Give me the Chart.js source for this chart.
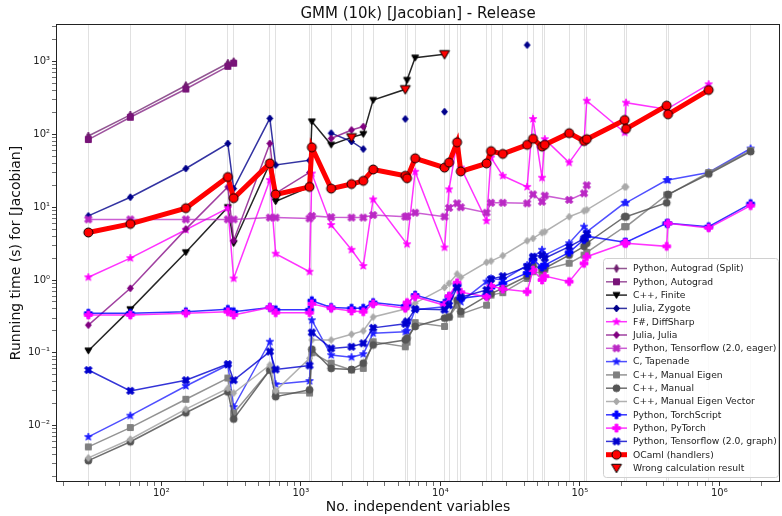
<!DOCTYPE html>
<html>
<head>
<meta charset="utf-8">
<script src="https://cdn.jsdelivr.net/npm/chart.js@4.4.1/dist/chart.umd.min.js"></script>
<style>
html, body { margin: 0; padding: 0; background: #fff; overflow: hidden; }
#wrap { width: 782px; height: 516px; }
</style>
</head>
<body>
<div id="wrap"><canvas id="chart" width="782" height="516"></canvas></div>
<script>
// number of independent variables (x positions of all measurements)
const nVars = [30, 60, 150, 300, 330, 600, 660, 1155, 1200, 1650, 2310, 2805, 3300, 5610, 5775, 6600,
    10725, 11550, 13200, 14025, 21450, 23100, 28050, 41925, 46200, 53625, 56100, 83850,
    107250, 112200, 209625, 214500, 419250, 429000, 838500, 1677000];

// running times (s), aligned with nVars, null = no measurement
const autogradSplit = [95, 185, 470, 950, 1000];
const autograd = [85, 172, 420, 860, 950];
const cppFinite = [0.107, 0.395, 2.4, 10, 3.2, 40, 12, 19, 150, 72, 91, 101, 296, 416, 558, 1130, 1260];
const juliaZygote = [7.6, 13.7, 34, 75, 18, 166, 38, 44, null, 104, 80, 63, null, 163, null, null, 205,
    null, null, null, null, null, null, 1690];
const fsDiffSharp = [1.09, 2.0, 4.9, 9.7, 1.05, 23.6, 2.3, 1.3, 29, 5.7, 2.6, 1.56, 12.8, null, 3.1, 30.7,
    2.8, 17.6, 79, 35, 6.5, 48, 27, 19, 163, 25.4, 86, 41, 79, 290, 106, 273, 221, null, 488];
const juliaJulia = [0.24, 0.77, 5.0, 19, 3.5, 75, 15.5, 30, null, 88, 115, 128];
const tfEager = [6.8, 6.8, 6.8, 6.8, 6.8, 7.2, 7.2, 7.0, 7.6, 7.3, 7.2, 7.2, 7.8, 7.4, 7.5, 8.4,
    7.4, 9.8, 11.3, 10, 8.4, 11.5, 11.5, 11.3, 15, 11.9, 14.4, 12.6, 15.5, 20];
const cTapenade = [0.0070, 0.0137, 0.035, 0.068, 0.018, 0.142, 0.037, 0.041, 0.28, 0.093, 0.087, 0.096,
    0.185, 0.195, 0.2, 0.39, 0.43, 0.53, 0.85, 0.50, 0.95, 1.05, 1.0, 1.6, 2.05, 2.6, 2.2, 3.2, 5.4, 4.6,
    11.5, 11.5, 23.6, 23.6, 30, 64];
const cppManualEigen = [0.0051, 0.0094, 0.023, 0.045, 0.0148, 0.058, 0.028, 0.028, 0.10, 0.072, 0.058, 0.061,
    0.142, 0.121, 0.14, 0.26, 0.23, 0.31, 0.45, 0.34, 0.45, 0.62, 0.67, 1.05, 1.3, 1.24, 1.4, 1.7, 2.2, 2.4,
    5.4, 5.4, 14.7, 14.7, 30, 60];
const cppManual = [0.0033, 0.0060, 0.015, 0.029, 0.0123, 0.058, 0.025, 0.031, 0.112, 0.061, 0.059, 0.072,
    0.128, 0.15, 0.16, 0.23, 0.30, 0.31, 0.53, 0.37, 0.6, 0.65, 0.77, 1.13, 1.6, 1.4, 1.45, 2.2, 2.9, 3.2,
    7.4, 7.4, 11.5, 15, 28.6, 58];
const cppEigenVector = [0.0036, 0.0065, 0.0168, 0.0325, 0.028, 0.068, 0.03, 0.084, 0.15, 0.15, 0.18, 0.2,
    0.31, 0.40, 0.42, 0.48, 0.79, 0.9, 1.21, 1.09, 1.75, 1.82, 2.16, 3.46, 3.73, 4.46, 4.6, 7.4, 8.9, 9.2,
    19, 19];
const torchScript = [0.35, 0.35, 0.367, 0.395, 0.367, 0.42, 0.39, 0.39, 0.52, 0.42, 0.41, 0.41, 0.49, 0.44,
    0.46, 0.62, 0.48, 0.59, 0.85, 0.56, 0.62, 0.79, 0.9, 1.25, 1.9, 1.5, 1.6, 2.4, 3.6, 4.0, 3.3, 3.3,
    6.0, 6.0, 5.4, 11.2];
const pyTorch = [0.33, 0.33, 0.35, 0.367, 0.33, 0.42, 0.355, 0.355, 0.47, 0.41, 0.375, 0.367, 0.47, 0.41,
    0.49, 0.59, 0.45, 0.6, 0.92, 0.68, 0.59, 0.83, 0.75, 0.69, 1.37, 1.0, 1.13, 0.95, 1.69, 2.09, 3.2, 3.2,
    2.9, 6.0, 5.2, 10.5];
const tfGraph = [0.058, 0.030, 0.042, 0.070, 0.042, 0.104, 0.059, 0.067, 0.19, 0.115, 0.121, 0.135, 0.22,
    0.25, 0.27, 0.40, 0.39, 0.45, 0.79, 0.58, 0.73, 1.03, 1.13, 1.52, 2.09, 2.2, 1.99, 2.87, 3.7, 4.3];
const ocamlHandlers = [4.5, 5.9, 9.7, 26, 13.3, 40, 15, 19, 66.5, 18, 20.8, 23, 33, 27, 25, 47, 35, 41, 78,
    31, 40, 59, 54, 72, 87, 68, 72, 104, 81, 86, 158, 119, 248, 189, 407];
// indices of C++ Finite results flagged as wrong
const wrongIdx = [10, 13, 16];

const yDecades = [-3, -2, -1, 0, 1, 2, 3];
const xDecades = [1, 2, 3, 4, 5, 6];

// draw a matplotlib-like marker into a small canvas
function makeMarker(shape, fill, edge, size, lw) {
    const c = document.createElement('canvas');
    const s = Math.ceil(size + 4);
    c.width = s; c.height = s;
    const g = c.getContext('2d');
    const m = s / 2, r = size / 2;
    g.translate(m, m);
    g.beginPath();
    if (shape === 'circle') {
        g.arc(0, 0, r, 0, Math.PI * 2);
    } else if (shape === 'square') {
        g.rect(-r * 0.85, -r * 0.85, r * 1.7, r * 1.7);
    } else if (shape === 'diamond') {
        g.moveTo(0, -r); g.lineTo(r * 0.85, 0); g.lineTo(0, r); g.lineTo(-r * 0.85, 0);
    } else if (shape === 'thin') {
        g.moveTo(0, -r); g.lineTo(r * 0.55, 0); g.lineTo(0, r); g.lineTo(-r * 0.55, 0);
    } else if (shape === 'tri') {
        g.moveTo(-r, -r * 0.75); g.lineTo(r, -r * 0.75); g.lineTo(0, r * 0.95);
    } else if (shape === 'star') {
        for (let i = 0; i < 10; i++) {
            const a = -Math.PI / 2 + i * Math.PI / 5;
            const rr = i % 2 === 0 ? r : r * 0.42;
            g.lineTo(Math.cos(a) * rr, Math.sin(a) * rr);
        }
    } else if (shape === 'plus' || shape === 'x') {
        if (shape === 'x') g.rotate(Math.PI / 4);
        const w = r * 0.36;
        const pts = [[-w, -r], [w, -r], [w, -w], [r, -w], [r, w], [w, w], [w, r], [-w, r], [-w, w], [-r, w], [-r, -w], [-w, -w]];
        pts.forEach((p, i) => i ? g.lineTo(p[0], p[1]) : g.moveTo(p[0], p[1]));
    }
    g.closePath();
    g.fillStyle = fill;
    g.fill();
    if (lw > 0) {
        g.lineWidth = lw;
        g.strokeStyle = edge;
        g.stroke();
    }
    return c;
}

// series definitions: label, values, line colour, marker
const series = [
    { label: 'Python, Autograd (Split)', values: autogradSplit, line: 'rgba(110,30,110,0.75)', marker: makeMarker('thin', 'rgb(110,30,110)', 'rgb(110,30,110)', 8, 1) },
    { label: 'Python, Autograd', values: autograd, line: 'rgba(125,25,125,0.75)', marker: makeMarker('square', 'rgb(120,20,120)', 'rgb(120,20,120)', 7, 1) },
    { label: 'C++, Finite', values: cppFinite, line: 'rgba(0,0,0,0.85)', marker: makeMarker('tri', '#000', '#000', 7, 1) },
    { label: 'Julia, Zygote', values: juliaZygote, line: 'rgba(0,0,139,0.8)', marker: makeMarker('diamond', 'rgb(0,0,139)', 'rgb(0,0,139)', 7, 1), gaps: false },
    { label: 'F#, DiffSharp', values: fsDiffSharp, line: 'rgba(255,0,255,0.8)', marker: makeMarker('star', '#ff00ff', '#ff00ff', 8, 0.8) },
    { label: 'Julia, Julia', values: juliaJulia, line: 'rgba(128,0,128,0.75)', marker: makeMarker('diamond', 'rgb(128,0,128)', 'rgb(128,0,128)', 7, 1), gaps: false },
    { label: 'Python, Tensorflow (2.0, eager)', values: tfEager, line: 'rgba(186,40,196,0.75)', marker: makeMarker('x', 'rgb(186,40,196)', 'rgb(186,40,196)', 8, 0.8) },
    { label: 'C, Tapenade', values: cTapenade, line: 'rgba(20,20,255,0.75)', marker: makeMarker('star', 'rgb(30,30,255)', 'rgb(30,30,255)', 8, 0.8) },
    { label: 'C++, Manual Eigen', values: cppManualEigen, line: 'rgba(128,128,128,0.85)', marker: makeMarker('square', '#808080', '#808080', 7, 1) },
    { label: 'C++, Manual', values: cppManual, line: 'rgba(85,85,85,0.85)', marker: makeMarker('circle', '#555', '#555', 7, 1) },
    { label: 'C++, Manual Eigen Vector', values: cppEigenVector, line: 'rgba(169,169,169,0.9)', marker: makeMarker('diamond', '#a9a9a9', '#a9a9a9', 7, 1) },
    { label: 'Python, TorchScript', values: torchScript, line: 'rgba(0,0,255,0.8)', marker: makeMarker('plus', '#0000ff', '#0000ff', 8, 0.8) },
    { label: 'Python, PyTorch', values: pyTorch, line: 'rgba(255,0,255,0.8)', marker: makeMarker('plus', '#ff00ff', '#ff00ff', 8, 0.8) },
    { label: 'Python, Tensorflow (2.0, graph)', values: tfGraph, line: 'rgba(0,0,205,0.8)', marker: makeMarker('x', 'rgb(0,0,205)', 'rgb(0,0,205)', 8, 0.8) },
    { label: 'OCaml (handlers)', values: ocamlHandlers, line: 'rgba(255,0,0,1)', marker: makeMarker('circle', '#ff0000', '#000', 9, 1), width: 5 }
];
const wrongMarker = makeMarker('tri', '#ff0000', '#000', 10, 1);

function toPoints(values) {
    return values.map((y, i) => ({ x: nVars[i], y: y }));
}

const datasets = series.map((s, i) => ({
    label: s.label,
    data: toPoints(s.values),
    showLine: true,
    borderColor: s.line,
    backgroundColor: s.line,
    borderWidth: s.width || 1.5,
    pointStyle: s.marker,
    pointRadius: 3,
    spanGaps: s.gaps === false ? false : true,
    order: 40 - i
}));
datasets.push({
    label: 'Wrong calculation result',
    data: wrongIdx.map(i => ({ x: nVars[i], y: cppFinite[i] })),
    showLine: false,
    pointStyle: wrongMarker,
    pointRadius: 4,
    order: 1
});

// superscript tick labels like 10⁻²
const sup = { '-': '⁻', '0': '⁰', '1': '¹', '2': '²', '3': '³', '4': '⁴', '5': '⁵', '6': '⁶', '7': '⁷', '8': '⁸', '9': '⁹' };
function powLabel(e) {
    return '10' + String(e).split('').map(ch => sup[ch]).join('');
}

// all candidate ticks; the ones inside the axis range are kept when ticks are built
function decadeTicks(decades) {
    const out = [];
    decades.forEach(e => {
        for (let k = 1; k < 10; k++) {
            out.push({ value: k * Math.pow(10, e), kind: k === 1 ? 'major' : 'minor', e: e });
        }
    });
    return out;
}
const yAll = decadeTicks(yDecades);
const xAll = decadeTicks(xDecades).concat(nVars.map(v => ({ value: v, kind: 'grid' })));
xAll.sort((a, b) => a.value - b.value);
let xShown = [], yShown = [];

// where the reference puts 10^2 / 10^0 and how wide one decade is (pixels)
const xRef = { pos: 161.3, exp: 2, decade: 139.5 };
const yRef = { pos: 280, exp: 0, decade: 72.8 };

const noPadding = () => ({ left: 0, top: 0, right: 0, bottom: 0 });

// frame and legend drawn like matplotlib
const framePlugin = {
    id: 'frameLegend',
    afterDraw(chart) {
        const ctx = chart.ctx;
        const a = chart.chartArea;
        ctx.save();
        ctx.strokeStyle = '#222';
        ctx.lineWidth = 1;
        ctx.strokeRect(a.left + 0.5, a.top + 0.5, a.right - a.left - 1, a.bottom - a.top - 1);

        // legend box
        const bx = 603, by = 258, bw = 175, bh = 219;
        ctx.fillStyle = 'rgba(255,255,255,0.85)';
        ctx.strokeStyle = '#d0d0d0';
        ctx.lineWidth = 1;
        ctx.beginPath();
        ctx.roundRect(bx + 0.5, by + 0.5, bw, bh, 3);
        ctx.fill();
        ctx.stroke();

        ctx.font = '9.2px "DejaVu Sans"';
        ctx.textBaseline = 'middle';
        const items = series.concat([{ label: 'Wrong calculation result', marker: wrongMarker, noLine: true }]);
        items.forEach((s, i) => {
            const y = by + 10.5 + i * 13.3;
            if (!s.noLine) {
                ctx.strokeStyle = s.line;
                ctx.lineWidth = s.width || 1.5;
                ctx.beginPath();
                ctx.moveTo(606, y);
                ctx.lineTo(627, y);
                ctx.stroke();
            }
            ctx.drawImage(s.marker, 616.5 - s.marker.width / 2, y - s.marker.height / 2);
            ctx.fillStyle = '#222';
            ctx.fillText(s.label, 633, y + 0.5);
        });
        ctx.restore();
    }
};

const chart = new Chart(document.getElementById('chart'), {
    type: 'scatter',
    data: { datasets: datasets },
    options: {
        responsive: false,
        devicePixelRatio: 1,
        animation: false,
        layout: { autoPadding: false, padding: { top: 0, right: 2, left: 0, bottom: 0 } },
        plugins: {
            legend: { display: false },
            tooltip: { enabled: false },
            title: {
                display: true,
                fullSize: false,
                text: 'GMM (10k) [Jacobian] - Release',
                color: '#111',
                font: { family: 'DejaVu Sans', size: 15, weight: 'normal' },
                padding: { top: 5, bottom: 1 }
            }
        },
        scales: {
            x: {
                type: 'logarithmic',
                min: 17.6,
                max: 2.72e6,
                afterBuildTicks: scale => {
                    xShown = xAll.filter(t => t.value >= scale.min && t.value <= scale.max);
                    scale.ticks = xShown.map(t => ({ value: t.value }));
                },
                afterFit: scale => { scale.height = 34; scale.paddingLeft = 0; scale.paddingRight = 0; scale.getPadding = noPadding; },
                ticks: {
                    autoSkip: false,
                    maxRotation: 0,
                    padding: 1,
                    color: '#222',
                    font: { family: 'DejaVu Sans', size: 10 },
                    callback: (v, i) => xShown[i] && xShown[i].kind === 'major' ? powLabel(xShown[i].e) : ''
                },
                grid: {
                    color: ctx => xShown[ctx.index] && xShown[ctx.index].kind === 'grid' ? 'rgba(200,200,200,0.55)' : 'rgba(0,0,0,0)',
                    tickColor: ctx => xShown[ctx.index] && xShown[ctx.index].kind !== 'grid' ? '#333' : 'rgba(0,0,0,0)',
                    tickWidth: ctx => xShown[ctx.index] && xShown[ctx.index].kind === 'major' ? 1 : 0.7,
                    tickLength: 4,
                    lineWidth: 1
                },
                border: { display: false },
                title: {
                    display: true,
                    text: 'No. independent variables',
                    color: '#111',
                    font: { family: 'DejaVu Sans', size: 14 },
                    padding: { top: 0, bottom: 0 }
                }
            },
            y: {
                type: 'logarithmic',
                min: 0.00168,
                max: 3280,
                afterBuildTicks: scale => {
                    yShown = yAll.filter(t => t.value >= scale.min && t.value <= scale.max);
                    scale.ticks = yShown.map(t => ({ value: t.value }));
                },
                afterFit: scale => { scale.width = 56; scale.paddingTop = 0; scale.paddingBottom = 0; scale.getPadding = noPadding; },
                ticks: {
                    autoSkip: false,
                    padding: 2,
                    color: '#222',
                    font: { family: 'DejaVu Sans', size: 10 },
                    callback: (v, i) => yShown[i] && yShown[i].kind === 'major' ? powLabel(yShown[i].e) : ''
                },
                grid: {
                    drawOnChartArea: false,
                    tickColor: '#333',
                    tickWidth: ctx => yShown[ctx.index] && yShown[ctx.index].kind === 'major' ? 1 : 0.7,
                    tickLength: 4
                },
                border: { display: false },
                title: {
                    display: true,
                    text: 'Running time (s) for [Jacobian]',
                    color: '#111',
                    font: { family: 'DejaVu Sans', size: 14 },
                    padding: { top: 8, bottom: 0 }
                }
            }
        }
    },
    plugins: [framePlugin]
});

// match the axis ends to the plot area actually laid out, so decades land where the reference has them
(function calibrate() {
    const a = chart.chartArea;
    const sx = chart.options.scales.x, sy = chart.options.scales.y;
    sx.min = Math.pow(10, xRef.exp - (xRef.pos - a.left) / xRef.decade);
    sx.max = Math.pow(10, xRef.exp + (a.right - xRef.pos) / xRef.decade);
    sy.min = Math.pow(10, yRef.exp - (a.bottom - yRef.pos) / yRef.decade);
    sy.max = Math.pow(10, yRef.exp + (yRef.pos - a.top) / yRef.decade);
    chart.update();
})();
</script>
</body>
</html>
